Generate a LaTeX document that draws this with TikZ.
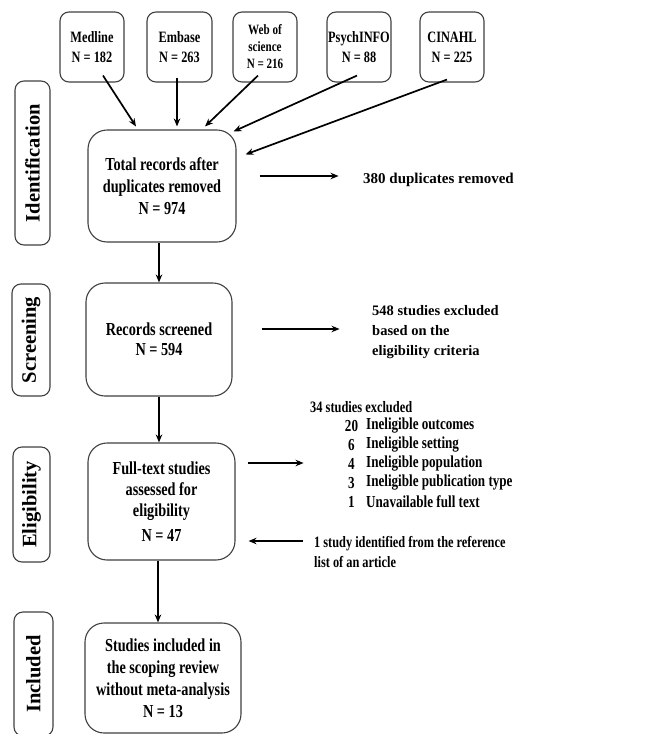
\documentclass[tikz,border=0pt]{standalone}
\usepackage{fontspec}
\setmainfont{Liberation Serif}
\newfontfamily\cond[FakeStretch=0.78]{Liberation Serif}
\usetikzlibrary{arrows.meta}
\definecolor{boxc}{HTML}{404040}
\begin{document}
\begin{tikzpicture}[x=1pt,y=-1pt,
 src/.style={draw=boxc,line width=1.1pt,rounded corners=9pt,fill=white,minimum width=64pt,minimum height=70pt,align=center,inner sep=1pt,font=\cond\bfseries\fontsize{15.8}{20}\selectfont},
 mainbox/.style={draw=boxc,line width=1.1pt,rounded corners=19pt,fill=white,align=center,inner sep=1pt,font=\cond\bfseries\fontsize{18.3}{22}\selectfont},
 stage/.style={draw=boxc,line width=1.1pt,rounded corners=9pt,fill=white,inner sep=0pt},
 stagetext/.style={rotate=90,inner sep=0pt,font=\bfseries\fontsize{20.5}{24}\selectfont},
 sidetext/.style={anchor=west,align=left,inner sep=0pt},
 arr/.style={-{Stealth[length=8pt,width=6.5pt]},line width=1.7pt},
]
\useasboundingbox (0,0) rectangle (671,734);

% sources
\node[src] (med) at (92,47) {Medline\\N = 182};
\node[src,minimum width=65pt] (emb) at (179.5,47) {Embase\\N = 263};
\node[src,font=\cond\bfseries\fontsize{14.2}{17}\selectfont] (web) at (265,47) {Web of\\science\\N = 216};
\node[src] (psy) at (359,47) {PsychINFO\\N = 88};
\node[src] (cin) at (452,47) {CINAHL\\N = 225};

% stage labels
\node[stage,minimum width=35pt,minimum height=164pt] (idlab) at (32.5,163) {};
\node[stagetext] (idtxt) at (idlab) {Identification};
\node[stage,minimum width=38pt,minimum height=112pt] (sclab) at (31,340) {};
\node[stagetext] (sctxt) at (sclab) {Screening};
\node[stage,minimum width=37pt,minimum height=115pt] (ellab) at (31.5,504.5) {};
\node[stagetext] (eltxt) at (ellab) {Eligibility};
\node[stage,minimum width=39pt,minimum height=124pt] (inlab) at (33.5,674) {};
\node[stagetext] (intxt) at (inlab) {Included};

% main boxes
\node[mainbox,minimum width=148pt,minimum height=112pt] (total) at (162,186) {Total records after\\duplicates removed\\N = 974};
\node[mainbox,minimum width=146pt,minimum height=113pt] (scr) at (159,339.5) {Records screened\\[-2pt]N = 594};
\node[mainbox,minimum width=147pt,minimum height=117pt] (full) at (161.5,501.5) {Full-text studies\\[-1pt]assessed for\\[-1pt]eligibility\\[3pt]N = 47};
\node[mainbox,minimum width=156pt,minimum height=110pt] (inc) at (163,678) {Studies included in\\the scoping review\\without meta-analysis\\N = 13};

% side texts
\node[sidetext,font=\bfseries\fontsize{15}{20}\selectfont] (dup) at (363,180) {380 duplicates removed};
\node[sidetext,font=\bfseries\fontsize{14.5}{20}\selectfont] (ex548) at (372,332) {548 studies excluded\\based on the\\eligibility criteria};
\node[sidetext,font=\cond\bfseries\fontsize{15.9}{19}\selectfont] (ex34) at (310,407) {34 studies excluded};
\foreach \n/\t/\y in {20/Ineligible outcomes/426,6/Ineligible setting/445,4/Ineligible population/464,3/Ineligible publication type/483,1/Unavailable full text/502}{
  \node[inner sep=0pt,font=\cond\bfseries\fontsize{16.8}{19}\selectfont] (num\y) at (351.5,\y) {\n};
  \node[sidetext,font=\cond\bfseries\fontsize{16.8}{19}\selectfont] (txt\y) at (366,\y) {\t};
}
\node[sidetext,font=\cond\bfseries\fontsize{15.8}{20}\selectfont] (ref) at (314,552) {1 study identified from the reference\\list of an article};

% arrows from sources
\draw[arr] ([xshift=11pt,yshift=7pt]med.south) -- ([xshift=-26pt,yshift=3pt]total.north);
\draw[arr] ([xshift=-2.5pt,yshift=5pt]emb.south) -- ([xshift=15pt,yshift=3pt]total.north);
\draw[arr] ([xshift=-7pt,yshift=7pt]web.south) -- ([xshift=43pt,yshift=3pt]total.north);
\draw[arr] ([xshift=-2pt,yshift=7pt]psy.south) -- ([xshift=-3pt,yshift=-2pt]total.north east);
\draw[arr] ([xshift=-5pt,yshift=3pt]cin.south) -- ([xshift=9pt,yshift=-25pt]total.north east);

% vertical flow
\draw[arr] (scr.north |- total.south) -- (scr.north);
\draw[arr] (scr.south) -- (scr.south |- full.north);
\draw[arr] ([xshift=-3.5pt]full.south) -- ([xshift=-3.5pt]full.south |- inc.north);

% side arrows
\draw[arr] ([xshift=23pt,yshift=10pt]total.east) -- ++(79,0) coordinate (dupend);
\draw[arr] ([xshift=29pt,yshift=10.5pt]scr.east) -- ++(78,0) coordinate (scrend);
\draw[arr] ([xshift=12pt,yshift=38.5pt]full.east) -- ++(56,0) coordinate (fullend);
\draw[arr] ([xshift=-11pt]ref.west |- 0,541) coordinate (refstart) -- ([xshift=13pt]full.east |- refstart);
\end{tikzpicture}
\end{document}
